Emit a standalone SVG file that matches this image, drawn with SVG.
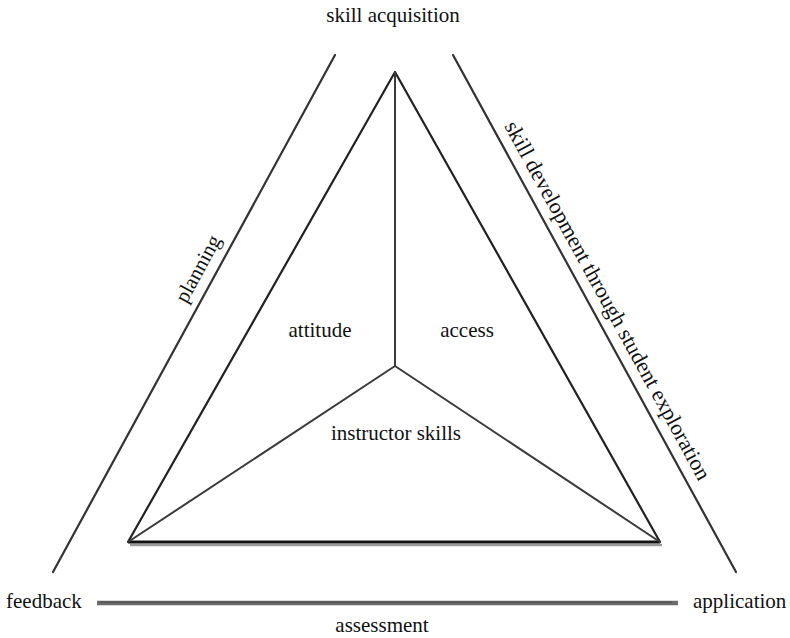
<svg xmlns="http://www.w3.org/2000/svg" width="790" height="638" viewBox="0 0 790 638">
<style>
  .t { font-family: "Liberation Serif", "Times New Roman", serif; font-size: 21px; fill: #111; }
  .edge { stroke: #222; stroke-width: 2.2; fill: none; stroke-linecap: round; stroke-linejoin: round; }
  .spoke { stroke: #3a3a3a; stroke-width: 2; fill: none; stroke-linecap: round; }
  .outer { stroke: #333; stroke-width: 2.2; fill: none; stroke-linecap: round; }
</style>
<rect width="790" height="638" fill="#fff"/>

<g id="connectors">
  <!-- outer side lines -->
  <line class="outer" x1="335" y1="55" x2="53" y2="572"/>
  <line class="outer" x1="453" y1="55" x2="736" y2="572"/>
  <!-- bottom assessment line -->
  <line x1="97" y1="603" x2="678" y2="603" stroke="#6b6b6b" stroke-width="4.5" stroke-linecap="butt"/>
  <line x1="100" y1="602" x2="672" y2="602" stroke="#555" stroke-width="1.5"/>
  <!-- inner triangle -->
  <line x1="130" y1="545" x2="662" y2="545" stroke="#9a9a9a" stroke-width="2.5"/>
  <path class="edge" d="M395,72 L660,542 L128,542 Z"/>
  <line x1="128" y1="542" x2="660" y2="542" stroke="#111" stroke-width="3"/>
  <!-- spokes -->
  <line class="spoke" x1="395" y1="72" x2="395" y2="366"/>
  <line class="spoke" x1="395" y1="366" x2="128" y2="542"/>
  <line class="spoke" x1="395" y1="366" x2="660" y2="542"/>
</g>

<g id="skill-acquisition"><text class="t" x="393" y="22" text-anchor="middle">skill acquisition</text></g>
<g id="feedback"><text class="t" x="6" y="608">feedback</text></g>
<g id="application"><text class="t" x="693" y="608">application</text></g>
<g id="assessment"><text class="t" x="382" y="632" text-anchor="middle">assessment</text></g>
<g id="planning"><text class="t" text-anchor="middle" transform="translate(204,272) rotate(-61.4)">planning</text></g>
<g id="skill-development"><text class="t" style="font-size:22px" transform="translate(504,126) rotate(61.3)">skill development through student exploration</text></g>
<g id="attitude"><text class="t" x="320" y="337" text-anchor="middle">attitude</text></g>
<g id="access"><text class="t" x="467" y="337" text-anchor="middle">access</text></g>
<g id="instructor-skills"><text class="t" x="396" y="440" text-anchor="middle">instructor skills</text></g>
</svg>
